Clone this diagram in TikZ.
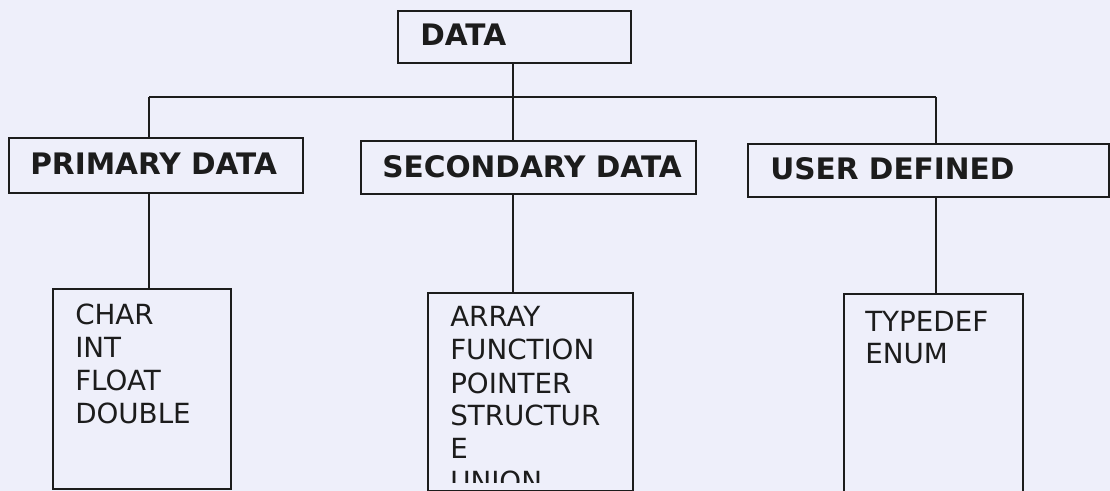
\documentclass[tikz,border=0pt]{standalone}
\usepackage{fontspec}
\setmainfont{DejaVu Sans}
\definecolor{paper}{RGB}{238,239,250}
\definecolor{ink}{RGB}{28,28,28}
\tikzset{
  box/.style={draw=ink, line width=1.5pt, rectangle, inner sep=0pt, anchor=north west},
  head/.style={anchor=base west, inner sep=0pt, text=ink, font=\fontsize{22.2pt}{26pt}\selectfont\bfseries},
  item/.style={anchor=base west, inner sep=0pt, text=ink, font=\fontsize{20.8pt}{25pt}\selectfont},
  link/.style={draw=ink, line width=1.5pt}
}
\begin{document}
\begin{tikzpicture}[x=0.75pt,y=-0.75pt]
\useasboundingbox (0,0) rectangle (1110,491);
\fill[paper] (0,0) rectangle (1110,491);
\clip (0,0) rectangle (1110,491);
% boxes
\node[box, minimum width=174.75pt, minimum height=39pt] (data) at (397,10) {};
\node[box, minimum width=220.5pt, minimum height=41.25pt] (primary) at (8,137) {};
\node[box, minimum width=251.25pt, minimum height=39.75pt] (secondary) at (360,140) {};
\node[box, minimum width=270.75pt, minimum height=39.75pt] (user) at (747,143) {};
\node[box, minimum width=133.5pt, minimum height=150pt] (prim list) at (52,288) {};
\node[box, minimum width=153.75pt, minimum height=148.5pt] (sec list) at (427,292) {};
\node[box, minimum width=134.25pt, minimum height=157.5pt] (user list) at (843,293) {};
% headings
\node[head] (tdata) at (420,46) {DATA};
\node[head] (tprim) at (30,175) {PRIMARY DATA};
\node[head] (tsec) at (382,178) {SECONDARY DATA};
\node[head] (tuser) at (770,180) {USER DEFINED};
% list texts
\node[item] (t1) at (75,325) {CHAR};
\node[item] (t2) at (75,358) {INT};
\node[item] (t3) at (75,391) {FLOAT};
\node[item] (t4) at (75,424) {DOUBLE};
\node[item] (s1) at (450,327) {ARRAY};
\node[item] (s2) at (450,360) {FUNCTION};
\node[item] (s3) at (450,393) {POINTER};
\node[item] (s4) at (450,426) {STRUCTUR};
\node[item] (s5) at (450,458) {E};
\begin{scope}
\clip (430,300) rectangle (630,482);
\node[item] (s6) at (450,491) {UNION};
\end{scope}
\node[item] (u1) at (865,332) {TYPEDEF};
\node[item] (u2) at (865,364) {ENUM};
% connectors
\coordinate (busL) at (149,97);
\coordinate (busM) at (513,97);
\coordinate (busR) at (936,97);
\draw[link] (data.south -| busM) -- (busM);
\draw[link] (busL) -- (busR);
\draw[link] (busL) -- (busL |- primary.north);
\draw[link] (busM) -- (busM |- secondary.north);
\draw[link] (busR) -- (busR |- user.north);
\draw[link] (busL |- primary.south) -- (busL |- prim list.north);
\draw[link] (busM |- secondary.south) -- (busM |- sec list.north);
\draw[link] (busR |- user.south) -- (busR |- user list.north);
\end{tikzpicture}
\end{document}
